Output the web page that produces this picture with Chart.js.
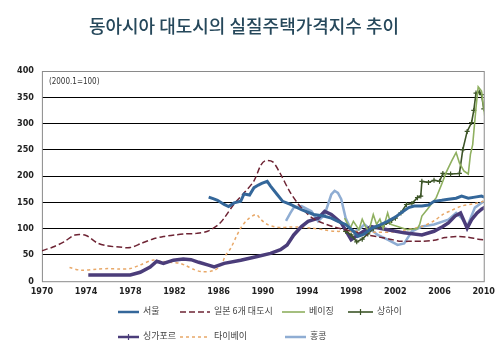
<!DOCTYPE html>
<html>
<head>
<meta charset="utf-8">
<script src="https://cdn.jsdelivr.net/npm/chart.js@4.4.1/dist/chart.umd.min.js"></script>
<style>
  html, body { margin: 0; padding: 0; background: #fff; }
  #wrap { position: relative; width: 500px; height: 362px; }
  #title { position: absolute; left: 0; top: 12px; width: 488px; text-align: center;
           font-family: 'Noto Sans CJK KR', sans-serif; font-size: 18px; font-weight: 500; color: #26485b; }
  .lg { position: absolute; font-family: 'Noto Sans CJK KR', sans-serif; font-size: 9px; color: #444; line-height: 12px; }
</style>
</head>
<body>
<div id="wrap">
  <canvas id="houseChart" width="500" height="362"></canvas>
  <div id="title">동아시아 대도시의 실질주택가격지수 추이</div>
  <div id="legend"></div>
</div>
<script>
// tick labels
const xTicks = [1970, 1974, 1978, 1982, 1986, 1990, 1994, 1998, 2002, 2006, 2010];
const yTicks = [0, 50, 100, 150, 200, 250, 300, 350, 400];

// series (year, index 2000.1 = 100)
const seoulYears = [1985.1, 1985.5, 1985.9, 1986.5, 1986.9, 1987.4, 1988, 1988.3, 1988.8, 1989.2, 1989.6, 1989.9, 1990.4, 1990.7, 1991.3, 1991.8, 1992.5, 1993.5, 1994.6, 1995.5, 1996.2, 1996.8, 1997.5, 1998.2, 1998.6, 1999.2, 1999.8, 2000.5, 2001.3, 2002, 2002.5, 2003.2, 2003.7, 2004.4, 2005, 2005.5, 2006.2, 2006.8, 2007.5, 2008, 2008.6, 2009.2, 2009.8, 2010.3];
const seoulVals = [160, 157, 154, 146, 142, 149, 152, 166, 164, 178, 183, 186, 190, 181, 165, 152, 146, 136, 127, 124, 120, 114, 108, 95, 85, 90, 100, 106, 114, 122, 130, 140, 143, 143, 145, 152, 154, 156, 158, 162, 158, 160, 162, 158];

const japanYears = [1970, 1971, 1972, 1973, 1974, 1975, 1976, 1977, 1978, 1979, 1980, 1981, 1982, 1983, 1984, 1985, 1986, 1986.5, 1987.4, 1988.3, 1989.2, 1989.8, 1990.2, 1990.9, 1991.6, 1992.4, 1993.2, 1993.8, 1994.5, 1995.5, 1996.5, 1997.5, 1998.5, 1999.5, 2000.5, 2001.5, 2002.5, 2003.5, 2004.5, 2005.5, 2006.5, 2007.5, 2008.5, 2009.5, 2010.2];
const japanVals = [58, 65, 75, 88, 87, 73, 67, 65, 64, 72, 80, 85, 88, 90, 91, 95, 108, 120, 147, 168, 191, 220, 229, 227, 204, 172, 147, 133, 120, 110, 103, 98, 93, 88, 84, 80, 76, 76, 76, 78, 83, 85, 84, 80, 78];

const beijingYears = [1997.4, 1997.9, 1998.2, 1998.7, 1999, 1999.3, 1999.6, 2000, 2000.3, 2000.6, 2000.9, 2001.3, 2001.6, 2002.2, 2003.1, 2004, 2004.2, 2004.4, 2004.9, 2005.7, 2006.2, 2006.6, 2007.1, 2007.5, 2007.8, 2008.2, 2008.6, 2008.8, 2009, 2009.3, 2009.5, 2009.8, 2010.1];
const beijingVals = [120, 100, 114, 98, 118, 104, 95, 127, 108, 118, 100, 130, 108, 104, 98, 100, 108, 124, 137, 159, 185, 207, 229, 245, 225, 210, 204, 242, 260, 330, 370, 362, 313];

const shanghaiYears = [1997.5, 1998, 1998.5, 1999, 1999.5, 2000, 2000.5, 2001, 2001.5, 2002, 2002.5, 2003, 2003.5, 2004, 2004.3, 2004.4, 2005, 2005.5, 2006, 2006.3, 2007, 2007.8, 2008.1, 2008.5, 2008.9, 2009.1, 2009.3, 2009.6, 2009.8, 2010];
const shanghaiVals = [95, 88, 75, 80, 90, 100, 104, 108, 112, 120, 130, 146, 148, 159, 162, 190, 188, 192, 190, 205, 204, 205, 250, 285, 302, 325, 358, 360, 355, 328];

const singaporeYears = [1974.2, 1976, 1978, 1978.9, 1979.8, 1980.4, 1981, 1981.9, 1982.8, 1983.5, 1984.2, 1985, 1985.6, 1986.5, 1988, 1989.5, 1990.7, 1991.6, 1992.2, 1992.8, 1993.5, 1994.1, 1995, 1995.6, 1996.2, 1997.1, 1998, 1998.6, 1999.8, 2001.3, 2002.8, 2004.4, 2005.5, 2006.3, 2006.8, 2007.4, 2007.9, 2008.5, 2008.9, 2009.4, 2009.8, 2010.3];
const singaporeVals = [12, 12, 12, 17, 27, 38, 34, 40, 42, 41, 36, 31, 27, 34, 40, 47, 53, 60, 69, 88, 104, 114, 120, 133, 127, 111, 79, 88, 104, 98, 92, 88, 95, 104, 111, 124, 130, 101, 117, 130, 137, 143];

const taipeiYears = [1972.5, 1973.5, 1975, 1976, 1977, 1978, 1978.9, 1980, 1980.5, 1981.5, 1982.5, 1983, 1983.8, 1984.5, 1985.5, 1986.2, 1986.6, 1987.1, 1987.6, 1988, 1988.6, 1989.4, 1989.8, 1990.4, 1991, 1991.6, 1992.5, 1993.2, 1994.4, 1995.5, 1996.5, 1998, 2000, 2002, 2003, 2004.4, 2005.5, 2006.3, 2007, 2008, 2009, 2010];
const taipeiVals = [26, 21, 23, 24, 23, 24, 31, 40, 39, 36, 34, 30, 22, 18, 20, 30, 48, 63, 85, 101, 117, 127, 118, 108, 104, 102, 103, 103, 101, 98, 95, 95, 93, 94, 98, 104, 115, 127, 134, 143, 147, 152];

const hongkongYears = [1992.1, 1992.5, 1992.8, 1993.5, 1994.4, 1995, 1995.6, 1996.2, 1996.5, 1996.8, 1997.1, 1997.5, 1998, 1998.3, 1998.8, 1999.2, 1999.8, 2000.4, 2001.3, 2002.2, 2002.8, 2003.5, 2004.4, 2005.5, 2006.8, 2007.5, 2008, 2008.5, 2009.2, 2010];
const hongkongVals = [115, 130, 140, 143, 133, 114, 127, 165, 172, 168, 156, 120, 98, 95, 100, 108, 98, 88, 79, 69, 72, 95, 104, 108, 117, 130, 120, 104, 140, 152];

function pts(years, vals) {
  return years.map((y, i) => ({ x: y, y: vals[i] }));
}

const series = [
  { label: '서울', years: seoulYears, vals: seoulVals, color: '#34679a', width: 3, dash: [] },
  { label: '일본  6개 대도시', years: japanYears, vals: japanVals, color: '#6e2434', width: 1.5, dash: [6, 3], tension: 0.3 },
  { label: '베이징', years: beijingYears, vals: beijingVals, color: '#8fb060', width: 1.6, dash: [] },
  { label: '상하이', years: shanghaiYears, vals: shanghaiVals, color: '#3d5528', width: 1.6, dash: [], marker: true },
  { label: '싱가포르', years: singaporeYears, vals: singaporeVals, color: '#4b3d7a', width: 3.5, dash: [], markerLegend: true },
  { label: '타이베이', years: taipeiYears, vals: taipeiVals, color: '#e8a868', width: 1.5, dash: [3, 3], tension: 0.3 },
  { label: '홍콩', years: hongkongYears, vals: hongkongVals, color: '#8fadd3', width: 2.5, dash: [] }
];

const frame = {
  id: 'frame',
  beforeDatasetsDraw(chart) {
    const a = chart.chartArea, ctx = chart.ctx;
    ctx.save();
    ctx.strokeStyle = '#8a8a8a';
    ctx.lineWidth = 1;
    ctx.strokeRect(a.left + 0.5, a.top + 0.5, a.right - a.left, a.bottom - a.top);
    ctx.fillStyle = '#333';
    ctx.font = "8px 'DejaVu Sans Condensed', sans-serif";
    ctx.textBaseline = 'middle';
    ctx.fillText('(2000.1=100)', a.left + 7, a.top + 11);
    ctx.restore();
  }
};

const tickFont = { family: "'DejaVu Sans Condensed', sans-serif", size: 9, weight: 'bold' };

new Chart(document.getElementById('houseChart'), {
  type: 'line',
  data: {
    datasets: series.map(s => ({
      label: s.label,
      data: pts(s.years, s.vals),
      borderColor: s.color,
      backgroundColor: s.color,
      borderWidth: s.width,
      borderDash: s.dash,
      tension: s.tension || 0,
      pointRadius: s.marker ? 2.5 : 0,
      pointStyle: 'cross',
      pointBorderWidth: 1.2,
      fill: false
    }))
  },
  options: {
    responsive: false,
    animation: false,
    layout: { padding: { left: 9, right: 16, top: 71, bottom: 60 } },
    plugins: {
      legend: { display: false },
      tooltip: { enabled: false }
    },
    scales: {
      x: {
        type: 'linear',
        min: 1970,
        max: 2010,
        afterBuildTicks: axis => { axis.ticks = xTicks.map(v => ({ value: v })); },
        ticks: { font: tickFont, color: '#222', padding: 5, maxRotation: 0, callback: v => String(v) },
        grid: { display: false, drawTicks: false },
        border: { display: false }
      },
      y: {
        min: 0,
        max: 400,
        afterBuildTicks: axis => { axis.ticks = yTicks.map(v => ({ value: v })); },
        ticks: { font: tickFont, color: '#222', padding: 8 },
        grid: {
          drawTicks: false,
          color: ctx => (ctx.tick.value === 0 || ctx.tick.value === 400) ? 'rgba(0,0,0,0)' : '#000',
          lineWidth: 1
        },
        border: { display: false }
      }
    }
  },
  plugins: [frame]
});

// legend laid out in two rows like the original
const legendPos = [
  [118, 312, 143], [180, 312, 214], [282, 312, 309], [348, 312, 377],
  [118, 337, 143], [180, 337, 214], [285, 337, 310]
];
const lg = document.getElementById('legend');
series.forEach((s, i) => {
  const [lx, ly, tx] = legendPos[i];
  const w = tx - lx - 4;
  const svg = `<svg width="${w}" height="8" style="position:absolute;left:${lx}px;top:${ly - 4}px">` +
    `<line x1="0" y1="4" x2="${w}" y2="4" stroke="${s.color}" stroke-width="${Math.min(s.width, 2.5)}" stroke-dasharray="${s.dash.join(' ')}"/>` +
    ((s.marker || s.markerLegend) ? `<line x1="${w / 2}" y1="1" x2="${w / 2}" y2="7" stroke="${s.color}" stroke-width="1.2"/>` : '') +
    `</svg>`;
  lg.insertAdjacentHTML('beforeend', svg);
  const el = document.createElement('div');
  el.className = 'lg';
  el.style.left = tx + 'px';
  el.style.top = (ly - 7) + 'px';
  el.textContent = s.label;
  lg.appendChild(el);
});
</script>
</body>
</html>
